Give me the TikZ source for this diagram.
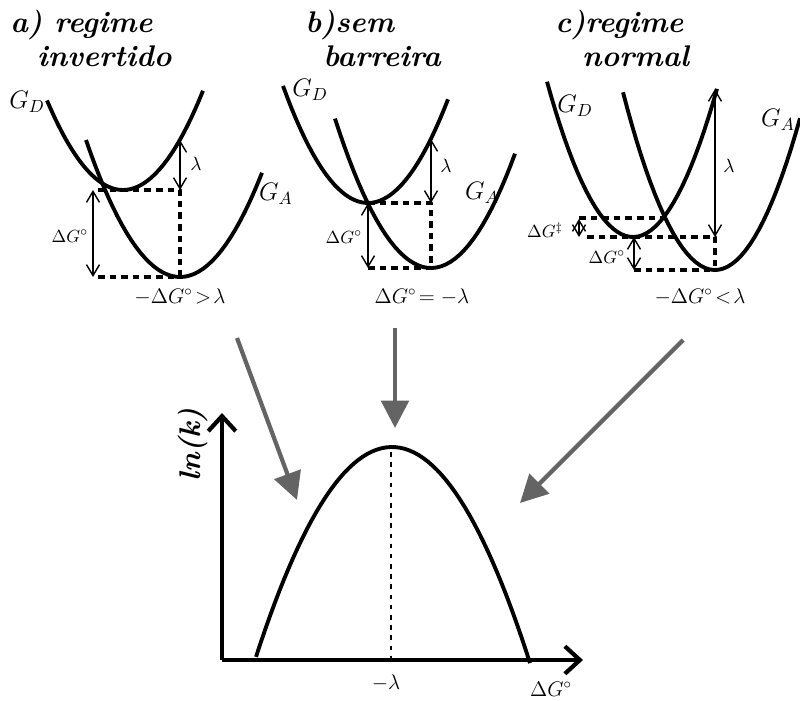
\documentclass[tikz,border=0pt]{standalone}
\usepackage{amsmath}
\usetikzlibrary{arrows.meta}
\definecolor{feedgray}{RGB}{100,100,100}

\begin{document}
\begin{tikzpicture}[x=0.02cm, y=-0.02cm, line join=round, curve/.style={line width=2.2pt}, guide/.style={line width=1.8pt, dash pattern=on 3.8pt off 2.8pt}, gap/.style={{Straight Barb[length=2.2mm, width=2.6mm]}-{Straight Barb[length=2.2mm, width=2.6mm]}, line width=0.8pt}, title/.style={font=\fontsize{17}{19}\selectfont\bfseries\itshape, align=left, anchor=north west, inner sep=0pt}, lbl/.style={font=\fontsize{10}{10}\selectfont, inner sep=1pt}, gsym/.style={font=\fontsize{14}{14}\selectfont}, cond/.style={font=\fontsize{12}{12}\selectfont}, feed/.style={-{Triangle[length=5.5mm, width=5.5mm]}, line width=2.4pt, draw=feedgray}, axis/.style={-{Straight Barb[length=3mm, width=5.5mm]}, line width=2.4pt}]
\useasboundingbox (0,0) rectangle (800,700);
% a) regime invertido
\node[title] (ta) at (10,10) {a) regime\\\hspace*{0.9em}invertido};
\draw[curve] plot[domain=47:203, samples=40] (\x, {190-0.0155*(\x-123)^2});
\draw[curve] plot[domain=86:262, samples=40] (\x, {277-0.0155*(\x-180)^2});
\draw[guide] (98,190) -- (180,190) -- (180,277) (98,277) -- (180,277);
\draw[gap] (180,140) -- (180,190);
\draw[gap] (93,190) -- (93,277);
\node[gsym] (gda) at (27,102) {$G_D$};
\node[gsym] (gaa) at (276,194) {$G_A$};
\node[lbl, font=\fontsize{11}{11}\selectfont] (la) at (196,164) {$\lambda$};
\node[lbl] (dga) at (70,236) {$\Delta G^{\circ}$};
\node[cond] (ca) at (180,297) {$-\Delta G^{\circ}\!>\!\lambda$};
% b) sem barreira
\node[title] (tb) at (305,10) {b)sem\\\hspace*{0.6em}barreira};
\draw[curve] plot[domain=283:448, samples=40] (\x, {203-0.0162*(\x-368)^2});
\draw[curve] plot[domain=335:515, samples=40] (\x, {268-0.0162*(\x-431)^2});
\draw[guide] (368,203) -- (431,203) -- (431,268) (368,268) -- (431,268);
\draw[gap] (431,139) -- (431,203);
\draw[gap] (368,203) -- (368,268);
\node[gsym] (gdb) at (310,90) {$G_D$};
\node[gsym] (gab) at (482,193) {$G_A$};
\node[lbl, font=\fontsize{11}{11}\selectfont] (lb) at (446,166) {$\lambda$};
\node[lbl] (dgb) at (344,237) {$\Delta G^{\circ}$};
\node[cond] (cb) at (422,297) {$\Delta G^{\circ}\!= -\lambda$};
% c) regime normal
\node[title] (tc) at (555,10) {c)regime\\\hspace*{0.9em}normal};
\draw[curve] plot[domain=547:717, samples=40] (\x, {237-0.021*(\x-633)^2});
\draw[curve] plot[domain=623:800, samples=40] (\x, {270-0.021*(\x-715)^2});
\draw[guide] (579,218) -- (662,218) (587,237) -- (715,237) -- (715,270) (634,270) -- (715,270);
\draw[gap] (715,89) -- (715,237);
\draw[gap] (579,219) -- (579,237);
\draw[gap] (634,237) -- (634,270);
\node[gsym] (gdc) at (575,106) {$G_D$};
\node[gsym] (gac) at (778,120) {$G_A$};
\node[lbl, font=\fontsize{11}{11}\selectfont] (lc) at (729,166) {$\lambda$};
\node[lbl] (dgtc) at (545,230) {$\Delta G^{\ddagger}$};
\node[lbl] (dgc) at (607,257) {$\Delta G^{\circ}$};
\node[cond] (cc) at (700,297) {$-\Delta G^{\circ}\!<\!\lambda$};
% ln(k) versus Delta G
\coordinate (fa) at (237,338); \coordinate (ha) at (297,500);
\coordinate (fb) at (395,328); \coordinate (hb) at (395,428);
\coordinate (fc) at (683,340); \coordinate (hc) at (520,503);
\draw[feed] (fa) -- (ha); \draw[feed] (fb) -- (hb); \draw[feed] (fc) -- (hc);
\coordinate (o) at (222,660);
\draw[axis] (o) -- (222,413); \draw[axis] (o) -- (583,660);
\draw[curve] plot[domain=256:530, samples=60] (\x, {447+213*((\x-392)/137)^2});
\draw[line width=1.6pt, dash pattern=on 2.6pt off 3.2pt] (391,452) -- (391,660);
\node[rotate=90, font=\fontsize{17}{17}\selectfont\bfseries\itshape] (lnk) at (193,445) {ln(k)};
\node[cond] (ml) at (386,683) {$-\lambda$};
\node[cond, anchor=north] (dgx) at (551,676) {$\Delta G^{\circ}$};
\end{tikzpicture}
\end{document}
